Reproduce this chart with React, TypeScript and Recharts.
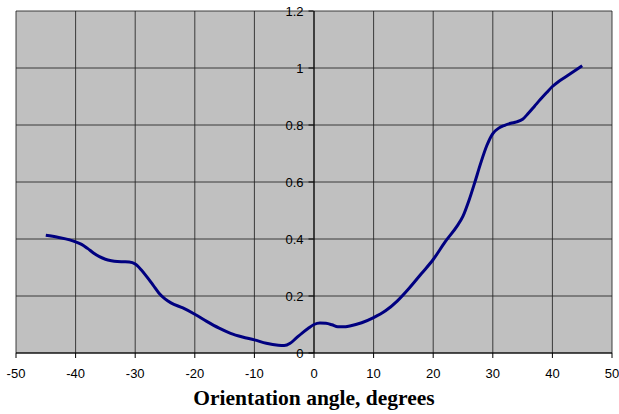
import { LineChart, Line, XAxis, YAxis, CartesianGrid, ReferenceLine } from 'recharts'

document.body.style.margin = '0'

const angles = [
  -45, -43, -41, -40, -39, -38, -37, -36, -35, -34, -33, -32, -31, -30, -29, -28, -27, -26, -25, -24,
  -22, -20, -18, -16, -14, -12, -10, -8, -6, -5, -4, -3, -2, -1, 0, 1, 2, 3, 4, 5, 6, 8, 10, 12, 14,
  16, 18, 20, 22, 24, 25, 26, 27, 28, 29, 30, 31, 32, 33, 34, 35, 36, 37, 38, 39, 40, 41, 42, 43, 44, 45,
]
const values = [
  0.413, 0.406, 0.397, 0.39, 0.381, 0.367, 0.351, 0.338, 0.329, 0.324, 0.321, 0.32, 0.319, 0.312, 0.292, 0.266, 0.238, 0.21, 0.19, 0.176,
  0.158, 0.136, 0.111, 0.088, 0.069, 0.056, 0.046, 0.034, 0.027, 0.026, 0.034, 0.052, 0.07, 0.086, 0.1, 0.105, 0.104, 0.099, 0.092, 0.092, 0.095, 0.106, 0.124, 0.148, 0.183,
  0.228, 0.278, 0.328, 0.39, 0.445, 0.48, 0.535, 0.6, 0.668, 0.728, 0.77, 0.789, 0.799, 0.806, 0.811, 0.82, 0.842, 0.866, 0.89, 0.913, 0.935, 0.952, 0.966, 0.98, 0.994, 1.008,
]

const xTicks = [-50, -40, -30, -20, -10, 0, 10, 20, 30, 40, 50]
const yTicks = [0, 0.2, 0.4, 0.6, 0.8, 1, 1.2]

const data = angles.map((a, i) => ({ angle: a, value: values[i] }))

const W = 619
const H = 414
const MARGIN = { top: 11, right: 7, left: 15, bottom: 0 }
const PLOT_W = W - MARGIN.left - MARGIN.right
// y axis crosses at angle 0, which is the middle of the plot
const AXIS_X = MARGIN.left + PLOT_W / 2

const FONT = 'Arial, "Liberation Sans", sans-serif'

const renderYTick = (props: any) => {
  const { y, payload } = props
  return (
    <g>
      <line x1={AXIS_X - 5} x2={AXIS_X} y1={y} y2={y} stroke="#000" />
      <text x={AXIS_X - 10} y={y} dy="0.36em" textAnchor="end" fontSize={13} fontFamily={FONT} fill="#000">
        {String(payload.value)}
      </text>
    </g>
  )
}

export default function App() {
  return (
    <div style={{ width: W, height: H, background: '#fff' }}>
      <LineChart width={W} height={H} data={data} margin={MARGIN}>
        <CartesianGrid fill="#c0c0c0" stroke="#222" strokeOpacity={0.85} />
        <XAxis
          dataKey="angle"
          type="number"
          domain={[-50, 50]}
          ticks={xTicks}
          height={61}
          tickSize={5}
          tickMargin={11}
          axisLine={{ stroke: '#000' }}
          tickLine={{ stroke: '#000' }}
          tick={{ fill: '#000', fontSize: 13, fontFamily: FONT }}
          label={{
            value: 'Orientation angle, degrees',
            position: 'insideBottom',
            offset: 9,
            style: { fontFamily: '"Liberation Serif", "Times New Roman", serif', fontWeight: 'bold', fontSize: 21.5, fill: '#000' },
          }}
        />
        <YAxis
          type="number"
          domain={[0, 1.2]}
          ticks={yTicks}
          width={1}
          axisLine={false}
          tickLine={false}
          tick={renderYTick}
        />
        <ReferenceLine x={0} stroke="#000" />
        <Line
          type="monotone"
          dataKey="value"
          stroke="#000080"
          strokeWidth={3}
          dot={false}
          isAnimationActive={false}
        />
      </LineChart>
    </div>
  )
}
